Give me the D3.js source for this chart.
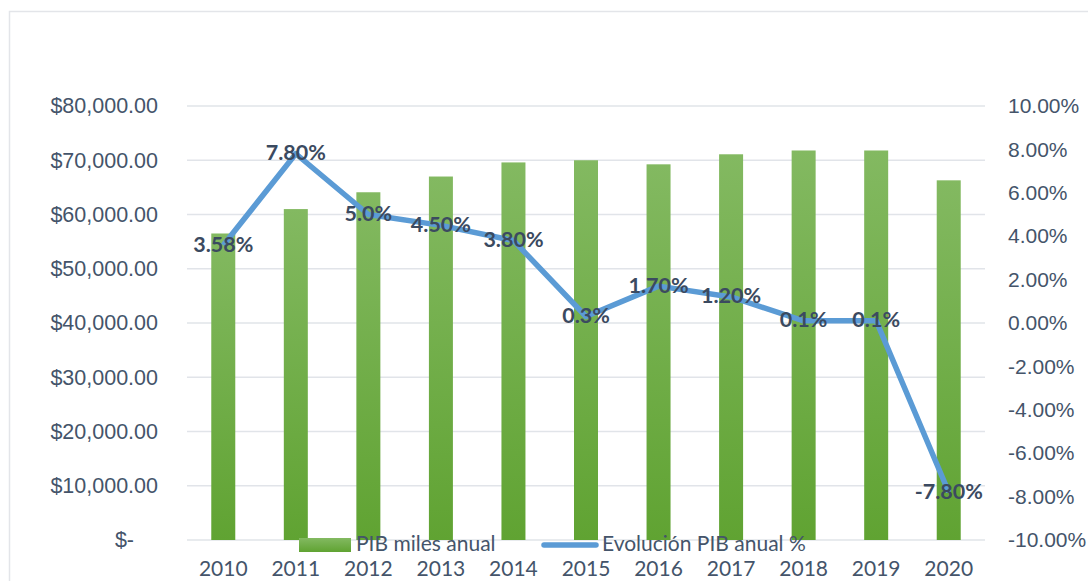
<!DOCTYPE html>
<html>
<head>
<meta charset="utf-8">
<script src="https://cdnjs.cloudflare.com/ajax/libs/d3/7.8.5/d3.min.js"></script>
<style>
  body { margin: 0; background: #fff; }
  svg { display: block; font-family: Lato, "Open Sans", sans-serif; }
</style>
</head>
<body>
<svg id="chart" width="1088" height="581"></svg>
<script>
// data
var years = ["2010", "2011", "2012", "2013", "2014", "2015", "2016", "2017", "2018", "2019", "2020"];
var pib = [56500, 61000, 64100, 67000, 69600, 70000, 69250, 71100, 71800, 71800, 66300];
var evolucion = [3.58, 7.8, 5.0, 4.5, 3.8, 0.3, 1.7, 1.2, 0.1, 0.1, -7.8];
var evolucionLabels = ["3.58%", "7.80%", "5.0%", "4.50%", "3.80%", "0.3%", "1.70%", "1.20%", "0.1%", "0.1%", "-7.80%"];
var leftTicks = [0, 10000, 20000, 30000, 40000, 50000, 60000, 70000, 80000];
var rightTicks = [-10, -8, -6, -4, -2, 0, 2, 4, 6, 8, 10];

var svg = d3.select("#chart");
var textColor = "#44546a";

// chart frame
svg.append("rect")
  .attr("x", 9.5).attr("y", 11.5)
  .attr("width", 1100).attr("height", 600)
  .attr("fill", "none")
  .attr("stroke", "#e3e5e9")
  .attr("stroke-width", 1.5);

var x = d3.scaleBand().domain(years).range([187, 985]);
var yLeft = d3.scaleLinear().domain([0, 80000]).range([540, 106]);
var yRight = d3.scaleLinear().domain([-10, 10]).range([540, 106]);

// gradient for bars
var defs = svg.append("defs");
var grad = defs.append("linearGradient")
  .attr("id", "barGrad")
  .attr("x1", 0).attr("y1", 0).attr("x2", 0).attr("y2", 1);
grad.append("stop").attr("offset", "0%").attr("stop-color", "#83b961");
grad.append("stop").attr("offset", "100%").attr("stop-color", "#60a332");

// gridlines
svg.append("g")
  .selectAll("line")
  .data(leftTicks)
  .join("line")
  .attr("x1", 187).attr("x2", 985)
  .attr("y1", function (d) { return yLeft(d); })
  .attr("y2", function (d) { return yLeft(d); })
  .attr("stroke", "#e1e4e9")
  .attr("stroke-width", 1.6);

// left axis
var fmtMoney = function (d) {
  return d === 0 ? "$-" : "$" + d3.format(",.2f")(d);
};
var leftAxis = svg.append("g")
  .attr("transform", "translate(187,0)")
  .call(d3.axisLeft(yLeft).tickValues(leftTicks).tickFormat(fmtMoney).tickSize(0).tickPadding(29));
leftAxis.select(".domain").remove();
leftAxis.selectAll("text")
  .attr("fill", textColor)
  .style("font-size", "21.5px");
leftAxis.selectAll("text").filter(function (d) { return d === 0; })
  .attr("dx", -24);

// right axis (hyphen minus like the original)
var fmtPct = function (d) {
  return (d < 0 ? "-" : "") + Math.abs(d).toFixed(2) + "%";
};
var rightAxis = svg.append("g")
  .attr("transform", "translate(985,0)")
  .call(d3.axisRight(yRight).tickValues(rightTicks).tickFormat(fmtPct)
    .tickSize(0).tickPadding(23));
rightAxis.select(".domain").remove();
rightAxis.selectAll("text")
  .attr("fill", textColor)
  .style("font-size", "21px");

// bars
var barW = 24;
svg.append("g")
  .selectAll("rect")
  .data(pib)
  .join("rect")
  .attr("x", function (d, i) { return x(years[i]) + x.bandwidth() / 2 - barW / 2; })
  .attr("y", function (d) { return yLeft(d); })
  .attr("width", barW)
  .attr("height", function (d) { return yLeft(0) - yLeft(d); })
  .attr("fill", "url(#barGrad)");

// line
var line = d3.line()
  .x(function (d, i) { return x(years[i]) + x.bandwidth() / 2; })
  .y(function (d) { return yRight(d); });
svg.append("path")
  .datum(evolucion)
  .attr("d", line)
  .attr("fill", "none")
  .attr("stroke", "#5b9bd5")
  .attr("stroke-width", 5.5)
  .attr("stroke-linejoin", "round");

// data labels
svg.append("g")
  .selectAll("text")
  .data(evolucion)
  .join("text")
  .attr("x", function (d, i) { return x(years[i]) + x.bandwidth() / 2; })
  .attr("y", function (d) { return yRight(d) + 1; })
  .attr("text-anchor", "middle")
  .attr("dominant-baseline", "middle")
  .attr("fill", "#3b4a60")
  .style("font-size", "21.5px")
  .style("font-weight", "bold")
  .text(function (d, i) { return evolucionLabels[i]; });

// x labels
svg.append("g")
  .selectAll("text")
  .data(years)
  .join("text")
  .attr("x", function (d) { return x(d) + x.bandwidth() / 2; })
  .attr("y", 576)
  .attr("text-anchor", "middle")
  .attr("fill", textColor)
  .style("font-size", "21px")
  .text(function (d) { return d; });

// legend
var legend = svg.append("g");
legend.append("rect")
  .attr("x", 299).attr("y", 538)
  .attr("width", 52).attr("height", 14)
  .attr("fill", "url(#barGrad)");
legend.append("text")
  .attr("x", 356).attr("y", 551)
  .attr("fill", textColor)
  .style("font-size", "21px")
  .text("PIB miles anual");
legend.append("line")
  .attr("x1", 544).attr("x2", 596)
  .attr("y1", 545).attr("y2", 545)
  .attr("stroke", "#5b9bd5")
  .attr("stroke-width", 5.5)
  .attr("stroke-linecap", "round");
legend.append("text")
  .attr("x", 602).attr("y", 551)
  .attr("fill", textColor)
  .style("font-size", "21px")
  .text("Evolución PIB anual %");
</script>
</body>
</html>
